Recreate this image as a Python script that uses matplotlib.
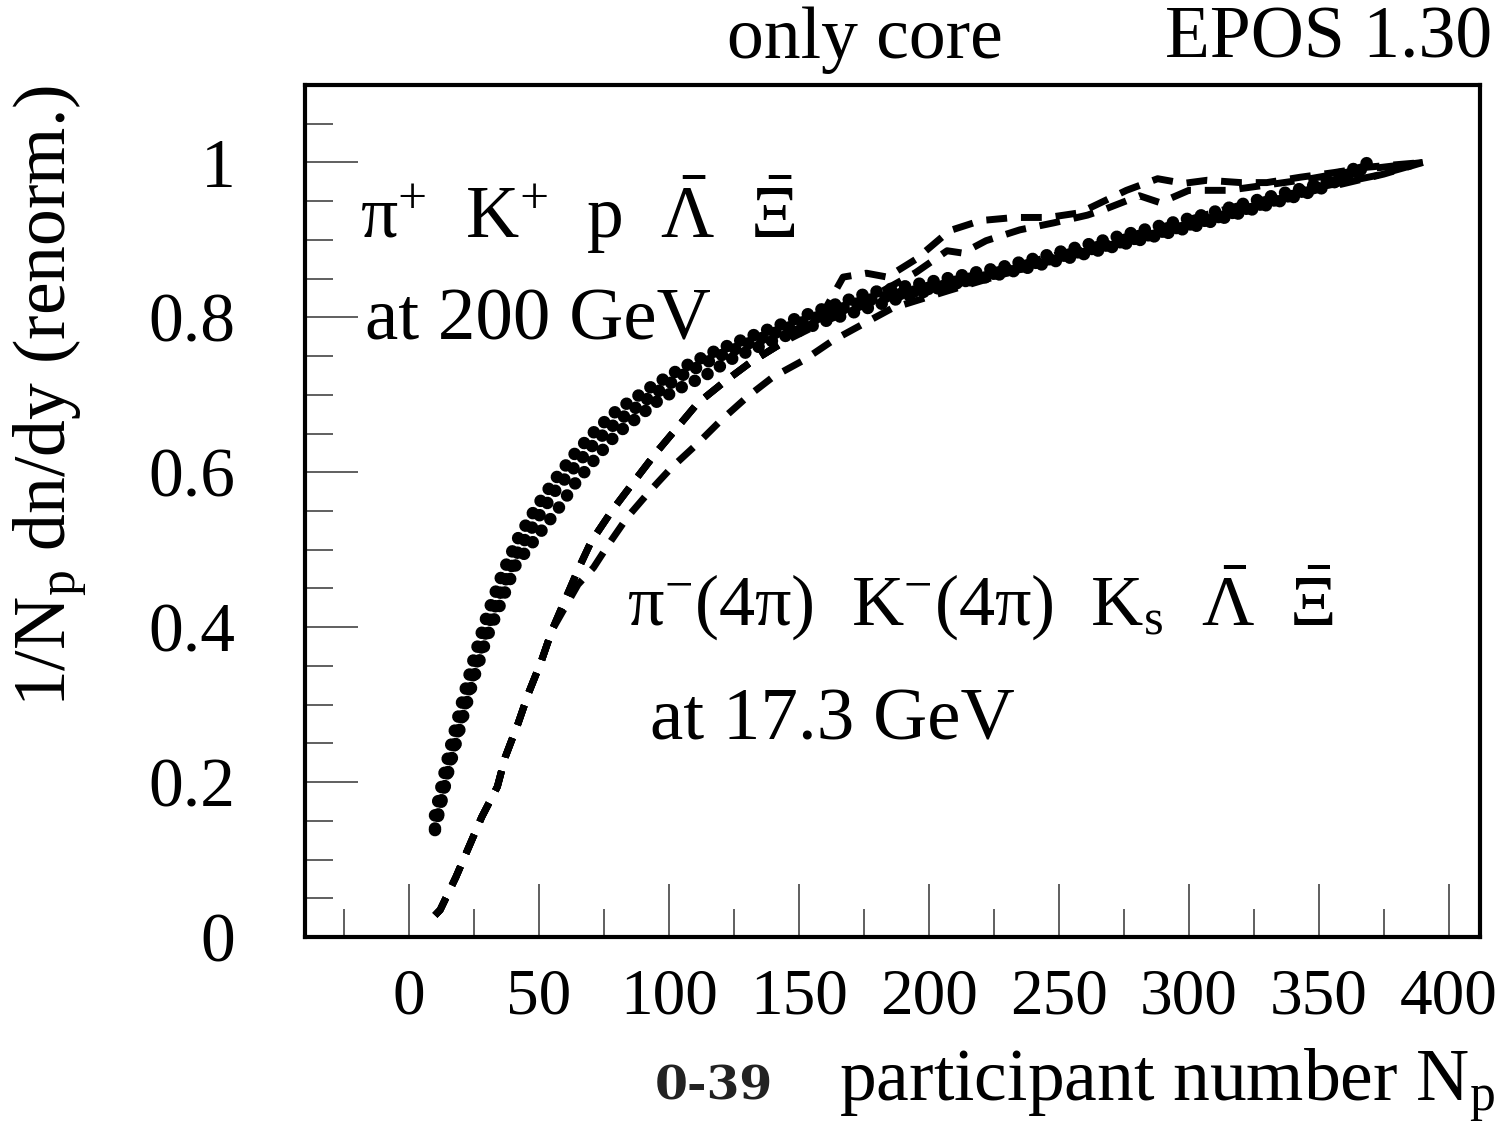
import matplotlib
matplotlib.use('Agg')
import matplotlib.pyplot as plt
from matplotlib.ticker import MultipleLocator, FixedLocator

# fonts ----------------------------------------------------------------------------------------------------------------
plt.rcParams['font.family'] = ['Liberation Serif', 'DejaVu Serif']
plt.rcParams['mathtext.fontset'] = 'custom'
plt.rcParams['mathtext.rm'] = 'Liberation Serif'
plt.rcParams['mathtext.it'] = 'Liberation Serif:italic'
plt.rcParams['mathtext.bf'] = 'Liberation Serif:bold'

# data: 200 GeV (dotted) -----------------------------------------------------------------------------------------------
npDotA = [10, 15, 20, 25, 30, 36, 42, 49, 56, 64, 72, 80, 93, 105, 118, 131, 150, 176, 202, 228, 253, 279, 305, 330,
          350, 369]
yDotA = [0.157, 0.232, 0.298, 0.36, 0.415, 0.47, 0.515, 0.555, 0.59, 0.625, 0.655, 0.68, 0.71, 0.735, 0.757, 0.775,
         0.8, 0.831, 0.847, 0.865, 0.887, 0.91, 0.932, 0.955, 0.972, 1.0]
npDotB = [10, 15, 20, 25, 30, 36, 42, 49, 56, 64, 72, 80, 93, 105, 118, 131, 150, 176, 202, 228, 253, 279, 305, 330,
          350, 369]
yDotB = [0.138, 0.215, 0.28, 0.342, 0.398, 0.452, 0.498, 0.538, 0.575, 0.608, 0.64, 0.665, 0.698, 0.725, 0.748, 0.767,
         0.792, 0.822, 0.838, 0.856, 0.876, 0.898, 0.92, 0.945, 0.965, 0.995]
npDotC = [10, 15, 20, 25, 30, 36, 41, 49, 57, 64, 72, 80, 88, 96, 105, 113, 125, 140, 160, 190, 220, 250, 280, 310,
          340, 369]
yDotC = [0.14, 0.212, 0.275, 0.335, 0.387, 0.437, 0.48, 0.516, 0.551, 0.586, 0.619, 0.65, 0.671, 0.693, 0.71, 0.723,
         0.748, 0.77, 0.795, 0.826, 0.852, 0.878, 0.902, 0.928, 0.958, 0.993]

# data: 17.3 GeV (dashed) ----------------------------------------------------------------------------------------------
npDashLow = [10, 12, 18, 23, 28, 34, 37, 42, 46, 51, 55]
yDashLow = [0.028, 0.035, 0.077, 0.116, 0.155, 0.194, 0.232, 0.276, 0.315, 0.357, 0.396]
npBandMid = [60, 65, 70, 78, 87, 95, 103, 111, 121, 131, 145]
yBandMid = [0.435, 0.474, 0.51, 0.55, 0.59, 0.625, 0.657, 0.689, 0.716, 0.741, 0.77]

npDash1Tail = [160, 167, 176, 184, 195, 208, 220, 233, 246, 258, 276, 288, 298, 307, 320, 330, 343, 356, 369, 390]
yDash1Tail = [0.81, 0.852, 0.857, 0.852, 0.875, 0.912, 0.925, 0.929, 0.929, 0.935, 0.964, 0.979, 0.973, 0.977, 0.974,
              0.974, 0.981, 0.987, 0.994, 1.0]
npDash2Tail = [165, 180, 195, 207, 213, 222, 235, 248, 261, 268, 281, 289, 300, 315, 328, 345, 365, 390]
yDash2Tail = [0.81, 0.83, 0.858, 0.886, 0.883, 0.899, 0.913, 0.922, 0.932, 0.94, 0.957, 0.948, 0.964, 0.964, 0.97,
              0.978, 0.99, 1.0]
npDash3Tail = [160, 180, 200, 230, 260, 290, 320, 350, 372, 390]
yDash3Tail = [0.795, 0.822, 0.842, 0.864, 0.89, 0.917, 0.945, 0.968, 0.983, 1.0]
npDash4Tail = [65, 71, 77, 84, 93, 101, 111, 120, 130, 140, 152, 163, 175, 186, 208, 230, 260, 290, 320, 350, 375, 390]
yDash4Tail = [0.455, 0.477, 0.508, 0.542, 0.577, 0.606, 0.637, 0.667, 0.697, 0.723, 0.745, 0.77, 0.792, 0.812, 0.835,
              0.857, 0.885, 0.912, 0.94, 0.965, 0.985, 1.0]

xMajorTicks = [0, 50, 100, 150, 200, 250, 300, 350, 400]
yMajorTicks = [0, 0.2, 0.4, 0.6, 0.8, 1.0]
yTickLabels = ['0', '0.2', '0.4', '0.6', '0.8', '1']

# figure and panel -----------------------------------------------------------------------------------------------------
figureWidth = 15.06
figureHeight = 11.40
fig = plt.figure(figsize=(figureWidth, figureHeight), dpi=100)

panel = plt.axes([305 / 1506, (1140 - 937) / 1140, 1175 / 1506, 852 / 1140])
panel.set_xlim(-40, 412)
panel.set_ylim(0, 1.1)

for side in ['left', 'right', 'top', 'bottom']:
    panel.spines[side].set_linewidth(3)

panel.xaxis.set_major_locator(FixedLocator(xMajorTicks))
panel.xaxis.set_minor_locator(MultipleLocator(25))
panel.yaxis.set_major_locator(FixedLocator(yMajorTicks))
panel.yaxis.set_minor_locator(MultipleLocator(0.05))
panel.set_yticklabels(yTickLabels)

panel.tick_params(which='both', direction='in', top=False, right=False, color='#444444', width=1.2)
panel.tick_params(which='major', length=38)
panel.tick_params(which='minor', length=20)
panel.tick_params(axis='x', which='major', labelsize=47, pad=22)
panel.tick_params(axis='y', which='major', labelsize=50, pad=50)

# curves ---------------------------------------------------------------------------------------------------------------
dotStyle = dict(color='black', linewidth=9, linestyle=(0, (0.01, 1.15)), dash_capstyle='round')
panel.plot(npDotA, yDotA, **dotStyle)
panel.plot(npDotB, yDotB, **dotStyle)
panel.plot(npDotC, yDotC, **dotStyle)

dashStyle = dict(color='black', linewidth=5, dash_capstyle='butt', linestyle=(0, (3, 2)))
panel.plot(npDashLow + npBandMid + npDash1Tail, yDashLow + yBandMid + yDash1Tail, **dashStyle)
panel.plot(npDashLow + npBandMid + npDash2Tail, yDashLow + yBandMid + yDash2Tail, **dashStyle)
panel.plot(npDashLow + npBandMid + npDash3Tail, yDashLow + yBandMid + yDash3Tail, **dashStyle)
panel.plot(npDashLow + npDash4Tail, yDashLow + yDash4Tail, **dashStyle)

# text -----------------------------------------------------------------------------------------------------------------
fig.text(727 / 1506, 1 - 58 / 1140, 'only core', fontsize=53, ha='left', va='baseline')
fig.text(1492 / 1506, 1 - 58 / 1140, 'EPOS 1.30', fontsize=53, ha='right', va='baseline')

fig.text(360 / 1506, 1 - 238 / 1140,
         r'$\mathrm{\pi}^{+}$  K$^{+}$  p  $\bar{\mathrm{\Lambda}}$  $\bar{\mathrm{\Xi}}$', fontsize=53,
         ha='left', va='baseline')
fig.text(365 / 1506, 1 - 340 / 1140, 'at 200 GeV', fontsize=54, ha='left', va='baseline')
fig.text(627 / 1506, 1 - 625 / 1140,
         r'$\mathrm{\pi}^{-}$(4$\mathrm{\pi}$)  K$^{-}$(4$\mathrm{\pi}$)  K$_\mathrm{s}$  '
         r'$\bar{\mathrm{\Lambda}}$  $\bar{\mathrm{\Xi}}$', fontsize=52, ha='left', va='baseline')
fig.text(650 / 1506, 1 - 740 / 1140, 'at 17.3 GeV', fontsize=54, ha='left', va='baseline')

fig.text(50 / 1506, 1 - 85 / 1140, r'1/N$_\mathrm{p}$ dn/dy (renorm.)', fontsize=53, rotation=90,
         ha='center', va='top')
fig.text(1495 / 1506, 1 - 1100 / 1140, r'participant number N$_\mathrm{p}$', fontsize=53, ha='right',
         va='baseline')
fig.text(655 / 1506, 1 - 1100 / 1140, '0-39', fontsize=34, fontweight='bold', family='DejaVu Serif',
         color='#222222', ha='left', va='baseline')

plt.savefig('out.png', dpi=100)
